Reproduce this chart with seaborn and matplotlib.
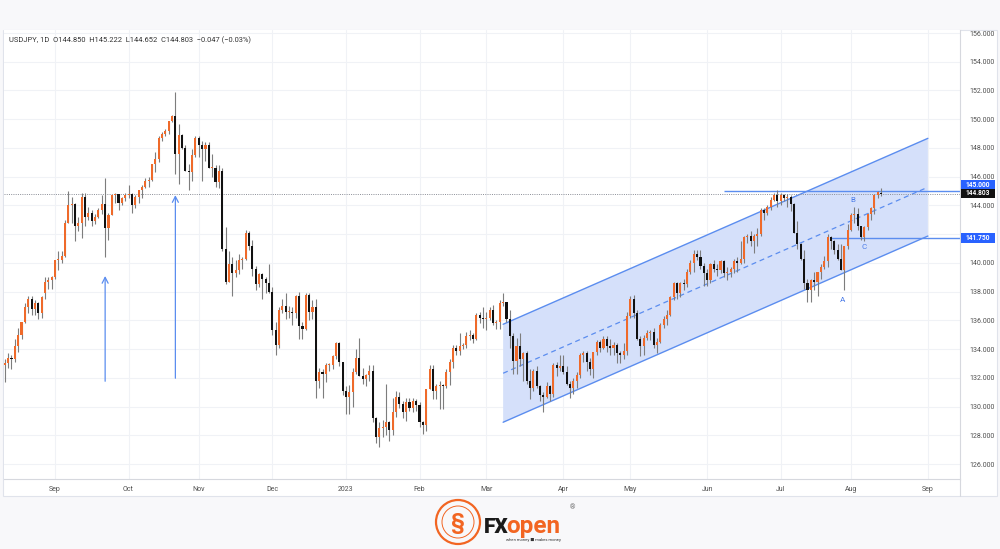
import numpy as np
import pandas as pd
import matplotlib
matplotlib.use("Agg")
import matplotlib.pyplot as plt
import seaborn as sns
from matplotlib.patches import Polygon, Rectangle, Ellipse
from matplotlib.lines import Line2D
from matplotlib.transforms import blended_transform_factory

# ---------------- data (USDJPY daily) ----------------
start_date = "2022-08-11"
end_date = "2023-08-14"

opens = [
    # Aug 2022
    132.9, 133.0, 133.4, 133.3, 134.2, 135.0, 135.9, 136.9, 137.5, 136.8, 137.2, 136.5, 137.9, 138.7, 138.8,
    # Sep
    139.0, 140.2, 140.2, 140.5, 142.8, 144.0, 144.1, 142.6, 142.8, 144.6, 143.2, 143.5, 142.9, 143.2, 143.7, 144.1, 142.4, 143.3, 144.7, 144.8, 144.2, 144.5,
    # Oct
    144.7, 144.8, 144.0, 144.6, 145.1, 145.3, 145.7, 145.8, 146.9, 147.2, 148.7, 149.0, 149.2, 149.9, 150.2, 147.6, 148.9, 148.0, 146.4, 146.3, 147.5,
    # Nov
    148.7, 148.2, 147.9, 148.2, 146.6, 146.6, 145.6, 146.4, 141.0, 138.7, 139.9, 139.3, 139.5, 140.2, 140.3, 142.1, 141.2, 139.6, 138.5, 139.2, 138.9, 138.6,
    # Dec
    138.0, 135.3, 134.3, 136.7, 137.0, 136.6, 136.6, 136.5, 137.7, 135.6, 135.4, 137.8, 136.6, 136.9, 131.8, 132.4, 132.3, 132.9, 132.9, 133.5, 134.4, 133.1,
    # Jan 2023
    131.1, 130.7, 131.0, 132.4, 133.4, 132.1, 131.9, 132.2, 132.5, 129.2, 127.9, 128.5, 128.6, 128.9, 128.4, 129.6, 130.7, 130.2, 129.6, 130.3, 129.9, 130.4,
    # Feb
    130.1, 128.9, 128.7, 131.2, 132.6, 131.1, 131.4, 131.5, 131.4, 132.4, 133.1, 134.1, 133.9, 134.2, 134.3, 134.9, 135.0, 134.7, 136.4, 136.2,
    # Mar
    136.1, 136.2, 136.7, 135.8, 135.9, 137.2, 137.3, 136.1, 134.9, 133.2, 134.2, 133.3, 133.7, 131.8, 131.3, 132.5, 131.4, 130.8, 130.7, 131.4, 130.9, 132.9, 132.7,
    # Apr
    132.8, 132.4, 131.6, 131.3, 131.8, 132.2, 133.6, 133.7, 133.1, 132.6, 133.8, 134.5, 134.1, 134.7, 134.2, 134.1, 134.3, 133.7, 133.6, 133.9,
    # May
    136.3, 137.5, 136.5, 134.7, 134.2, 134.8, 135.1, 135.2, 134.3, 134.5, 135.7, 136.1, 136.4, 137.6, 138.6, 137.9, 138.6, 138.5, 139.4, 140.0, 140.6, 140.4, 139.8,
    # Jun
    139.3, 138.8, 139.9, 139.6, 139.5, 140.1, 139.3, 139.4, 139.6, 140.1, 140.0, 140.3, 141.8, 141.9, 141.5, 141.9, 142.0, 143.7, 143.5, 143.9, 144.4, 144.7,
    # Jul
    144.3, 144.7, 144.5, 144.6, 144.1, 142.1, 141.3, 140.3, 138.6, 138.1, 138.8, 138.7, 139.4, 139.7, 140.1, 141.8, 141.5, 140.9, 140.3, 139.5, 141.2,
    # Aug
    142.3, 143.3, 143.4, 142.6, 141.8, 142.5, 143.4, 143.8, 144.7, 144.850,
]
highs = [
    133.3, 133.7, 133.6, 134.7, 135.5, 135.9, 137.2, 137.7, 137.7, 137.4, 137.3, 137.7, 139.0, 139.0, 139.1,
    140.2, 140.8, 140.8, 143.0, 145.0, 144.6, 144.2, 143.2, 144.9, 144.9, 143.9, 143.7, 143.4, 143.8, 144.7, 145.9, 143.5, 144.7, 144.9, 144.8, 144.6, 144.9,
    145.4, 144.9, 144.7, 145.1, 145.4, 145.9, 146.0, 146.9, 147.7, 148.8, 149.1, 149.3, 149.9, 150.3, 151.9, 149.7, 149.0, 148.2, 146.9, 147.9, 148.8,
    148.8, 148.5, 148.4, 148.4, 147.6, 146.8, 146.8, 146.6, 142.5, 140.8, 140.4, 140.2, 140.6, 140.4, 142.3, 142.2, 141.6, 139.8, 139.3, 139.3, 139.0, 139.9,
    138.3, 135.9, 136.9, 137.5, 137.9, 137.0, 136.9, 137.8, 138.0, 135.9, 137.9, 137.9, 137.4, 137.5, 132.7, 132.6, 133.0, 133.0, 133.6, 134.5, 134.5, 133.1,
    131.4, 131.5, 132.7, 134.0, 134.8, 132.7, 132.3, 132.9, 132.9, 129.3, 128.9, 129.1, 131.6, 129.0, 130.6, 131.1, 131.0, 130.4, 130.6, 130.6, 130.6, 130.5,
    130.3, 129.0, 131.2, 132.9, 132.9, 131.6, 131.8, 131.6, 132.6, 133.3, 134.3, 134.3, 135.1, 134.4, 135.2, 135.3, 135.1, 136.5, 136.6, 136.9,
    136.6, 136.9, 137.1, 136.0, 137.4, 137.9, 137.3, 136.7, 135.1, 134.8, 135.1, 133.8, 133.9, 132.6, 132.6, 132.8, 131.5, 131.0, 131.7, 131.5, 133.0, 133.1, 133.6,
    133.6, 132.8, 131.8, 132.0, 132.4, 133.7, 133.9, 133.9, 133.4, 133.8, 134.6, 134.6, 134.9, 134.9, 134.7, 134.5, 134.4, 133.9, 134.4, 136.6,
    137.7, 137.8, 136.7, 134.9, 135.0, 135.3, 135.3, 135.5, 134.8, 135.8, 136.3, 136.7, 137.7, 138.7, 138.7, 138.7, 138.9, 139.6, 140.2, 140.9, 140.9, 140.9, 140.0,
    139.6, 140.0, 140.2, 139.9, 140.2, 140.2, 139.7, 139.7, 140.3, 140.4, 141.5, 141.9, 142.0, 142.2, 142.0, 142.4, 143.8, 143.8, 144.0, 144.6, 144.9, 145.1,
    144.9, 144.8, 144.8, 144.7, 144.2, 142.9, 141.4, 140.9, 138.9, 138.9, 139.4, 139.4, 139.9, 140.5, 142.0, 141.9, 141.6, 141.3, 141.3, 141.2, 142.7,
    143.5, 143.9, 143.8, 142.6, 142.6, 143.5, 143.9, 144.8, 145.0, 145.222,
]
lows = [
    131.7, 132.7, 132.6, 133.1, 133.8, 134.7, 135.8, 136.5, 136.4, 136.4, 136.1, 136.2, 137.5, 138.2, 138.2,
    138.9, 139.5, 140.0, 140.4, 142.8, 142.8, 141.5, 142.2, 141.7, 142.6, 143.0, 142.6, 142.7, 143.1, 143.4, 140.4, 141.6, 143.3, 144.2, 143.7, 144.0, 144.3,
    144.5, 143.5, 143.8, 144.2, 144.5, 145.2, 145.3, 145.7, 146.3, 147.0, 148.5, 148.8, 149.0, 149.8, 146.2, 145.5, 147.9, 146.4, 145.1, 145.7, 147.4,
    147.4, 145.7, 147.1, 146.6, 146.0, 145.3, 145.2, 140.8, 138.5, 138.7, 137.7, 139.0, 139.2, 139.6, 140.2, 140.9, 139.1, 138.1, 138.3, 137.5, 137.9, 137.9,
    135.0, 133.6, 134.1, 136.5, 136.1, 136.2, 135.7, 136.2, 134.7, 134.7, 135.3, 136.0, 136.1, 130.6, 131.3, 130.6, 131.7, 132.5, 132.6, 133.3, 132.8, 130.8,
    129.5, 129.5, 130.0, 132.3, 132.1, 131.6, 131.4, 131.8, 128.9, 127.5, 127.2, 127.9, 128.0, 127.6, 128.0, 129.3, 129.9, 129.2, 129.0, 129.7, 129.6, 129.7,
    128.6, 128.1, 128.3, 131.2, 130.5, 130.5, 129.8, 129.8, 131.3, 131.5, 132.7, 133.6, 133.6, 134.0, 134.1, 134.6, 134.4, 134.6, 135.8, 135.5,
    135.3, 136.0, 135.7, 135.4, 135.4, 137.0, 135.9, 134.1, 132.3, 132.3, 132.8, 131.8, 131.6, 130.5, 131.1, 131.3, 130.4, 129.6, 130.6, 130.4, 130.7, 132.1, 132.5,
    132.3, 131.5, 130.6, 130.9, 131.3, 132.0, 133.1, 132.5, 132.2, 132.0, 133.6, 133.8, 134.0, 133.8, 133.6, 133.6, 133.0, 133.0, 133.3, 133.6,
    136.2, 136.2, 134.6, 133.5, 133.6, 134.6, 134.6, 134.1, 133.7, 134.4, 135.5, 135.7, 136.3, 137.4, 137.5, 137.6, 138.1, 138.3, 139.2, 139.4, 140.2, 139.6, 138.4,
    138.4, 138.6, 139.4, 139.1, 139.3, 139.0, 138.8, 139.0, 139.3, 139.4, 139.9, 140.0, 141.4, 141.2, 140.7, 141.2, 141.9, 143.0, 143.3, 143.7, 144.3, 143.9,
    144.0, 144.3, 143.9, 143.6, 142.1, 141.0, 140.2, 138.2, 137.3, 137.3, 138.1, 137.7, 138.9, 139.6, 139.7, 141.0, 140.6, 140.2, 139.5, 138.1, 141.0,
    142.2, 142.8, 142.3, 141.6, 141.5, 142.3, 143.0, 143.4, 144.5, 144.652,
]
closes = [
    133.0, 133.4, 133.3, 134.2, 135.0, 135.9, 136.9, 137.5, 136.8, 137.2, 136.5, 137.6, 138.7, 138.8, 139.0,
    140.2, 140.2, 140.5, 142.8, 144.0, 144.1, 142.6, 142.8, 144.6, 143.2, 143.5, 142.9, 143.2, 143.7, 144.1, 142.4, 143.3, 144.7, 144.8, 144.2, 144.5, 144.7,
    144.8, 144.0, 144.6, 145.1, 145.3, 145.7, 145.8, 146.9, 147.2, 148.7, 149.0, 149.2, 149.9, 150.2, 147.6, 148.9, 148.0, 146.4, 146.3, 147.5, 148.7,
    148.2, 147.9, 148.2, 146.6, 146.6, 145.6, 146.4, 141.0, 138.7, 139.9, 139.3, 139.5, 140.2, 140.3, 142.1, 141.2, 139.6, 138.5, 139.2, 138.9, 138.6, 138.0,
    135.3, 134.3, 136.7, 137.0, 136.6, 136.6, 136.5, 137.7, 135.6, 135.4, 137.8, 136.6, 136.9, 131.8, 132.4, 132.3, 132.9, 132.9, 133.5, 134.4, 133.1, 131.1,
    130.7, 131.0, 132.4, 133.4, 132.1, 131.9, 132.2, 132.5, 129.2, 127.9, 128.5, 128.6, 128.9, 128.4, 129.6, 130.7, 130.2, 129.6, 130.3, 129.9, 130.4, 130.1,
    128.9, 128.7, 131.2, 132.6, 131.1, 131.4, 131.5, 131.4, 132.4, 133.1, 134.1, 133.9, 134.2, 134.3, 134.9, 135.0, 134.7, 136.4, 136.2, 136.1,
    136.2, 136.7, 135.8, 135.9, 137.2, 137.3, 136.1, 134.9, 133.2, 134.2, 133.3, 133.7, 131.8, 131.3, 132.5, 131.4, 130.8, 130.7, 131.4, 130.9, 132.9, 132.7, 132.8,
    132.4, 131.6, 131.3, 131.8, 132.2, 133.6, 133.7, 133.1, 132.6, 133.8, 134.5, 134.1, 134.7, 134.2, 134.1, 134.3, 133.7, 133.6, 133.9, 136.3,
    137.5, 136.5, 134.7, 134.2, 134.8, 135.1, 135.2, 134.3, 134.5, 135.7, 136.1, 136.4, 137.6, 138.6, 137.9, 138.6, 138.5, 139.4, 140.0, 140.6, 140.4, 139.8, 139.3,
    138.8, 139.9, 139.6, 139.5, 140.1, 139.3, 139.4, 139.6, 140.1, 140.0, 140.3, 141.8, 141.9, 141.5, 141.9, 142.0, 143.7, 143.5, 143.9, 144.4, 144.7, 144.3,
    144.7, 144.5, 144.6, 144.1, 142.1, 141.3, 140.3, 138.6, 138.1, 138.8, 138.7, 139.4, 139.7, 140.1, 141.8, 141.5, 140.9, 140.3, 139.5, 141.2, 142.3,
    143.3, 143.4, 142.6, 141.8, 142.5, 143.4, 143.8, 144.7, 144.95, 144.803,
]

month_labels = ["Sep", "Oct", "Nov", "Dec", "2023", "Feb", "Mar", "Apr", "May", "Jun", "Jul", "Aug", "Sep"]
price_ticks = list(range(126, 157, 2))

channel_dates = ["2023-03-08", "2023-09-01"]
channel_upper = [135.73, 148.67]
channel_lower = [128.91, 141.87]
channel_mid = [132.32, 145.27]

level_values = [145.000, 141.750]
level_start = ["2023-06-08", "2023-07-24"]
last_price = 144.803

arrow_dates = ["2022-09-22", "2022-10-21"]
arrow_from = [131.57, 131.78]
arrow_to = [139.28, 144.91]

wave_labels = ["A", "B", "C"]
wave_prices = [137.42, 144.38, 141.13]

header = "USDJPY, 1D  O144.850  H145.222  L144.652  C144.803  \u22120.047 (\u22120.03%)"

# ---------------- style ----------------
sns.set_theme(style="white")
plt.rcParams['font.family'] = ['Roboto', 'DejaVu Sans']

UP = '#ef6a2a'
DOWN = '#111111'
WICK = '#7d7d7d'
BLUE_LINE = '#5b8def'
BLUE_FILL = '#d5e0fa'
GRID = '#f0f2f6'
TXT = '#505050'

W, H = 1000, 549
fig = plt.figure(figsize=(W / 100, H / 100), dpi=100, facecolor='#f8f8fa')


def fx(px):
    return px / W


def fy(py):
    return 1 - py / H


fig.add_artist(Rectangle((fx(3), fy(496)), 994 / W, 466 / H, transform=fig.transFigure,
                         facecolor='white', edgecolor='#e0e3eb', lw=0.8, zorder=0))

ax = fig.add_axes([fx(4), fy(479), (960 - 4) / W, (479 - 30) / H])
ax.set_facecolor('white')

dates = pd.bdate_range(start_date, end_date)
n = min(len(dates), len(opens), len(highs), len(lows), len(closes))
calendar = pd.bdate_range(start_date, "2023-09-29")
pos = {d: i for i, d in enumerate(calendar)}


def idx(d):
    return pos[pd.Timestamp(d)]


o = np.array(opens[:n]); h = np.array(highs[:n]); l = np.array(lows[:n]); c = np.array(closes[:n])
x = np.arange(n)
up = c >= o

ax.set_xlim(-0.24, 285.6)
ax.set_ylim(124.96, 156.21)

# grid / ticks
month_pos = []
for m in pd.period_range("2022-09", "2023-09", freq="M"):
    first = calendar[(calendar.year == m.year) & (calendar.month == m.month)][0]
    month_pos.append(pos[first])
ax.set_xticks(month_pos)
ax.set_xticklabels(month_labels)
ax.set_yticks(price_ticks)
# the 142.000 label sits under the 141.750 tag in the reference
ax.set_yticklabels(["" if v == 142 else f"{v:.3f}" for v in price_ticks])
ax.grid(True, color=GRID, lw=0.8, zorder=0)
ax.set_axisbelow(True)

ax.yaxis.tick_right()
ax.tick_params(axis='y', length=0, pad=7, labelsize=5.0, labelcolor=TXT)
ax.tick_params(axis='x', length=0, pad=5, labelsize=5.0, labelcolor=TXT)
for s in ['left', 'top']:
    ax.spines[s].set_visible(False)
for s in ['right', 'bottom']:
    ax.spines[s].set_color('#d6d8de')
    ax.spines[s].set_linewidth(0.8)
fig.add_artist(Line2D([fx(960), fx(960)], [fy(479), fy(496)], transform=fig.transFigure,
                      color='#d6d8de', lw=0.8))

# channel
cx = [idx(d) for d in channel_dates]
poly = Polygon([(cx[0], channel_upper[0]), (cx[1], channel_upper[1]),
                (cx[1], channel_lower[1]), (cx[0], channel_lower[0])],
               closed=True, facecolor=BLUE_FILL, edgecolor='none', zorder=1)
ax.add_patch(poly)
ax.plot(cx, channel_upper, color=BLUE_LINE, lw=1.0, zorder=2)
ax.plot(cx, channel_lower, color=BLUE_LINE, lw=1.0, zorder=2)
sns.lineplot(x=cx, y=channel_mid, ax=ax, color=BLUE_LINE, lw=0.9, linestyle=(0, (4, 3)), zorder=2)

# horizontal levels
for v, d in zip(level_values, level_start):
    ax.hlines(v, idx(d), 285.6, color=BLUE_LINE, lw=1.0, zorder=2)
ax.axhline(last_price, color='#8a8d96', lw=0.7, ls=(0, (1, 1.3)), zorder=2)

# candles
ax.vlines(x, l, h, colors=WICK, lw=0.8, zorder=3)
body_bottom = np.minimum(o, c)
body_h = np.maximum(np.abs(c - o), 0.07)
ax.bar(x, body_h, bottom=body_bottom, width=0.62, color=np.where(up, UP, DOWN), linewidth=0, zorder=4)

# arrows
for d, y0, y1 in zip(arrow_dates, arrow_from, arrow_to):
    xi = idx(d)
    ax.annotate('', xy=(xi, y1), xytext=(xi, y0),
                arrowprops=dict(arrowstyle='->,head_length=0.35,head_width=0.18',
                                color=BLUE_LINE, lw=0.9), zorder=5)

# wave labels
for lab, xi, yv in zip(wave_labels, [250.4, 253.7, 256.9], wave_prices):
    ax.text(xi, yv, lab, color='#4a7be8', fontsize=5.8, ha='center', va='center', zorder=6)

# price tags on the axis
trans = blended_transform_factory(ax.transAxes, ax.transData)
px_to_price = (156.21 - 124.96) / 449.0
for val, off_px, fc in [(145.000, 6.5, '#2962ff'), (last_price, 0.6, '#111111'), (141.750, 0.0, '#2962ff')]:
    yc = val + off_px * px_to_price
    hh = 9.5 * px_to_price
    ax.add_patch(Rectangle((1.001, yc - hh / 2), 34 / 956, hh, transform=trans,
                           facecolor=fc, edgecolor='none', clip_on=False, zorder=7))
    ax.text(1.001 + 17 / 956, yc, f"{val:.3f}", transform=trans, color='white', fontsize=4.8,
            fontweight='bold', ha='center', va='center', clip_on=False, zorder=8)

# header
fig.text(fx(9), fy(40), header, fontsize=5.4, color='#333333', ha='left', va='center')

# footer logo
ORANGE = '#f26522'
fig.add_artist(Ellipse((fx(458), fy(522)), 44 / W, 44 / H, transform=fig.transFigure,
                       facecolor='none', edgecolor=ORANGE, lw=1.6))
fig.add_artist(Ellipse((fx(458), fy(522)), 32 / W, 32 / H, transform=fig.transFigure,
                       facecolor='none', edgecolor=ORANGE, lw=0.7))
fig.text(fx(458), fy(523), "\u00a7", fontsize=16, color=ORANGE, ha='center', va='center', fontweight='bold')
fig.text(fx(484), fy(533), "FX", fontsize=15, color='#1a1a1a', fontweight='heavy', ha='left', va='baseline')
fig.text(fx(506.5), fy(533), "open", fontsize=17.5, color=ORANGE, fontweight='bold', ha='left', va='baseline')
fig.text(fx(572), fy(508), "\u00ae", fontsize=5, color='#666666', ha='center', va='center')
fig.text(fx(534), fy(540), "when money \u25a0 makes money", fontsize=3.0, color='#333333', ha='center', va='center')

fig.savefig("out.png", dpi=100, facecolor=fig.get_facecolor())
